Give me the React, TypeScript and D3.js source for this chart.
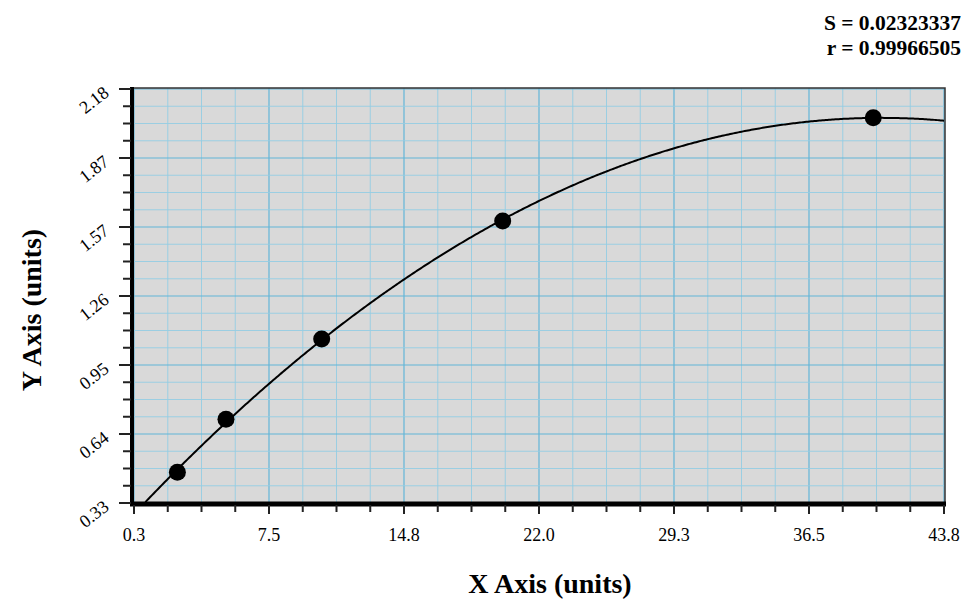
import * as d3 from "d3";
import React from "react";

// standard points
const xValues = [2.63, 5.24, 10.38, 20.1, 40.0];
const yValues = [0.467, 0.704, 1.063, 1.59, 2.052];

const xTickLabels = ["0.3", "7.5", "14.8", "22.0", "29.3", "36.5", "43.8"];
const yTickLabels = ["0.33", "0.64", "0.95", "1.26", "1.57", "1.87", "2.18"];

const statLines = ["S = 0.02323337", "r = 0.99966505"];

const xDomain = [0.3, 43.8];
const yDomain = [0.33, 2.18];

// least squares quadratic through the points
const fitQuadratic = (xs: number[], ys: number[]) => {
  const s = (f: (x: number, y: number) => number) =>
    d3.sum(xs, (x, i) => f(x, ys[i]));
  const n = xs.length;
  const sx = s((x) => x), sx2 = s((x) => x * x), sx3 = s((x) => x ** 3), sx4 = s((x) => x ** 4);
  const sy = s((x, y) => y), sxy = s((x, y) => x * y), sx2y = s((x, y) => x * x * y);
  const m = [
    [n, sx, sx2, sy],
    [sx, sx2, sx3, sxy],
    [sx2, sx3, sx4, sx2y],
  ];
  for (let i = 0; i < 3; i++) {
    for (let k = i + 1; k < 3; k++) {
      const f = m[k][i] / m[i][i];
      for (let j = i; j < 4; j++) m[k][j] -= f * m[i][j];
    }
  }
  const c = m[2][3] / m[2][2];
  const b = (m[1][3] - m[1][2] * c) / m[1][1];
  const a = (m[0][3] - m[0][1] * b - m[0][2] * c) / m[0][0];
  return (x: number) => a + b * x + c * x * x;
};

const W = 963;
const H = 600;
const left = 133;
const right = 945;
const top = 88;
const bottom = 504;
const serif = { fontFamily: "Liberation Serif" };

export default function App() {
  const x = d3.scaleLinear().domain(xDomain).range([134, 944]);
  const y = d3.scaleLinear().domain(yDomain).range([503, 89]);

  const nMinor = 4;
  const xMajor = xTickLabels.map((_, i) => xDomain[0] + (i * (xDomain[1] - xDomain[0])) / (xTickLabels.length - 1));
  const yMajor = yTickLabels.map((_, i) => yDomain[0] + (i * (yDomain[1] - yDomain[0])) / (yTickLabels.length - 1));
  const xAll = d3.range((xTickLabels.length - 1) * nMinor + 1).map(
    (i) => xDomain[0] + (i * (xDomain[1] - xDomain[0])) / ((xTickLabels.length - 1) * nMinor)
  );
  const yAll = d3.range((yTickLabels.length - 1) * nMinor + 1).map(
    (i) => yDomain[0] + (i * (yDomain[1] - yDomain[0])) / ((yTickLabels.length - 1) * nMinor)
  );

  const fit = fitQuadratic(xValues, yValues);
  const curvePts = d3
    .range(0, 501)
    .map((i) => xDomain[0] + (i / 500) * (xDomain[1] - xDomain[0]))
    .map((v) => [v, fit(v)] as [number, number])
    .filter((p) => p[1] >= yDomain[0]);
  const line = d3
    .line<[number, number]>()
    .x((d) => x(d[0]))
    .y((d) => y(d[1]));

  return (
    <svg width={W} height={H} style={{ position: "absolute", left: 0, top: 0, background: "#fff", fontFamily: "Liberation Serif" }}>
      <rect x={left} y={top} width={right - left} height={bottom - top} fill="#d9d9d9" />
      {xAll.map((v, i) => (
        <line
          key={"gx" + i}
          x1={x(v)} x2={x(v)} y1={top} y2={bottom}
          stroke={i % nMinor === 0 ? "#62b5d8" : "#94cde3"}
          strokeWidth={i % nMinor === 0 ? 1.2 : 0.9}
        />
      ))}
      {yAll.map((v, i) => (
        <line
          key={"gy" + i}
          x1={left} x2={right} y1={y(v)} y2={y(v)}
          stroke={i % nMinor === 0 ? "#62b5d8" : "#94cde3"}
          strokeWidth={i % nMinor === 0 ? 1.2 : 0.9}
        />
      ))}
      <rect x={left} y={top} width={right - left} height={bottom - top} fill="none" stroke="#333" strokeWidth={1.5} />

      <path d={line(curvePts) || ""} fill="none" stroke="#000" strokeWidth={2} />
      {xValues.map((v, i) => (
        <circle key={"p" + i} cx={x(v)} cy={y(yValues[i])} r={8.5} fill="#000" />
      ))}

      {/* axes */}
      <line x1={132} x2={132} y1={top - 1} y2={bottom + 2} stroke="#000" strokeWidth={4} />
      <line x1={130} x2={946} y1={bottom} y2={bottom} stroke="#000" strokeWidth={5} />
      {yAll.map((v, i) => (
        <line
          key={"ty" + i}
          x1={i % nMinor === 0 ? 119 : 123} x2={131} y1={y(v)} y2={y(v)}
          stroke="#222" strokeWidth={2}
        />
      ))}
      {xAll.map((v, i) => (
        <line
          key={"tx" + i}
          x1={x(v)} x2={x(v)} y1={505} y2={i % nMinor === 0 ? 514 : 512}
          stroke="#222" strokeWidth={2}
        />
      ))}
      {xMajor.map((v, i) => (
        <text key={"lx" + i} x={x(v)} y={541} textAnchor="middle" style={serif} fontSize={18} fill="#000">
          {xTickLabels[i]}
        </text>
      ))}
      {yMajor.map((v, i) => (
        <text
          key={"ly" + i}
          transform={`translate(110,${y(v) + 6}) rotate(-38)`}
          textAnchor="end"
          style={serif}
          fontSize={18}
          fill="#000"
        >
          {yTickLabels[i]}
        </text>
      ))}

      <text x={550} y={593} textAnchor="middle" style={serif} fontSize={28} fontWeight="bold">
        X Axis (units)
      </text>
      <text
        transform={`translate(41,310) rotate(-90)`}
        textAnchor="middle"
        style={serif}
        fontSize={28}
        fontWeight="bold"
      >
        Y Axis (units)
      </text>
      {statLines.map((s, i) => (
        <text key={"s" + i} x={961} y={30 + i * 25} textAnchor="end" style={serif} fontSize={21.5} fontWeight="bold">
          {s}
        </text>
      ))}
    </svg>
  );
}
